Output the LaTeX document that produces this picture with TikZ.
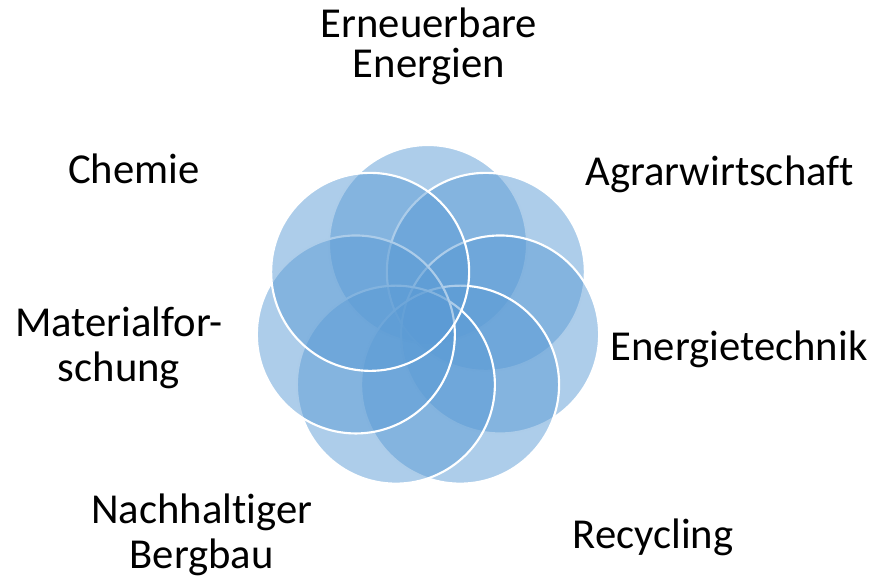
\documentclass[tikz,border=0pt]{standalone}
\usepackage{fontspec}
\setmainfont{Carlito}[Ligatures={CommonOff,ContextualOff}]
\begin{document}
\begin{tikzpicture}[x=0.75pt,y=-0.75pt,
  petal/.style={fill=petalblue,fill opacity=0.5,draw=white,draw opacity=1,line width=1.6pt},
  lbl/.style={font=\fontsize{32}{33.75}\selectfont,align=center,anchor=base,inner sep=0pt}]
\definecolor{petalblue}{HTML}{5B9BD5}
\useasboundingbox (0,0) rectangle (871,577);
\coordinate (c) at (428,318);
\foreach \a [count=\i] in {90,38.571,-12.857,-64.286,-115.714,-167.143,141.429}{
  \path[petal] (c) ++(-\a:74) coordinate (p\i) circle [radius=99];
}
\node[lbl,font=\fontsize{32}{30.5}\selectfont] (t1) at (429,78) {Erneuerbare\\Energien};
\node[lbl] (t2) at (719.7,186) {Agrarwirtschaft};
\node[lbl] (t3) at (739,360) {Energietechnik};
\node[lbl] (t4) at (653,548) {Recycling};
\node[lbl] (t5) at (201.7,568) {Nachhaltiger\\Bergbau};
\node[lbl] (t6) at (119,381.5) {Materialfor-\\schung};
\node[lbl] (t7) at (134,184) {Chemie};
\end{tikzpicture}
\end{document}
